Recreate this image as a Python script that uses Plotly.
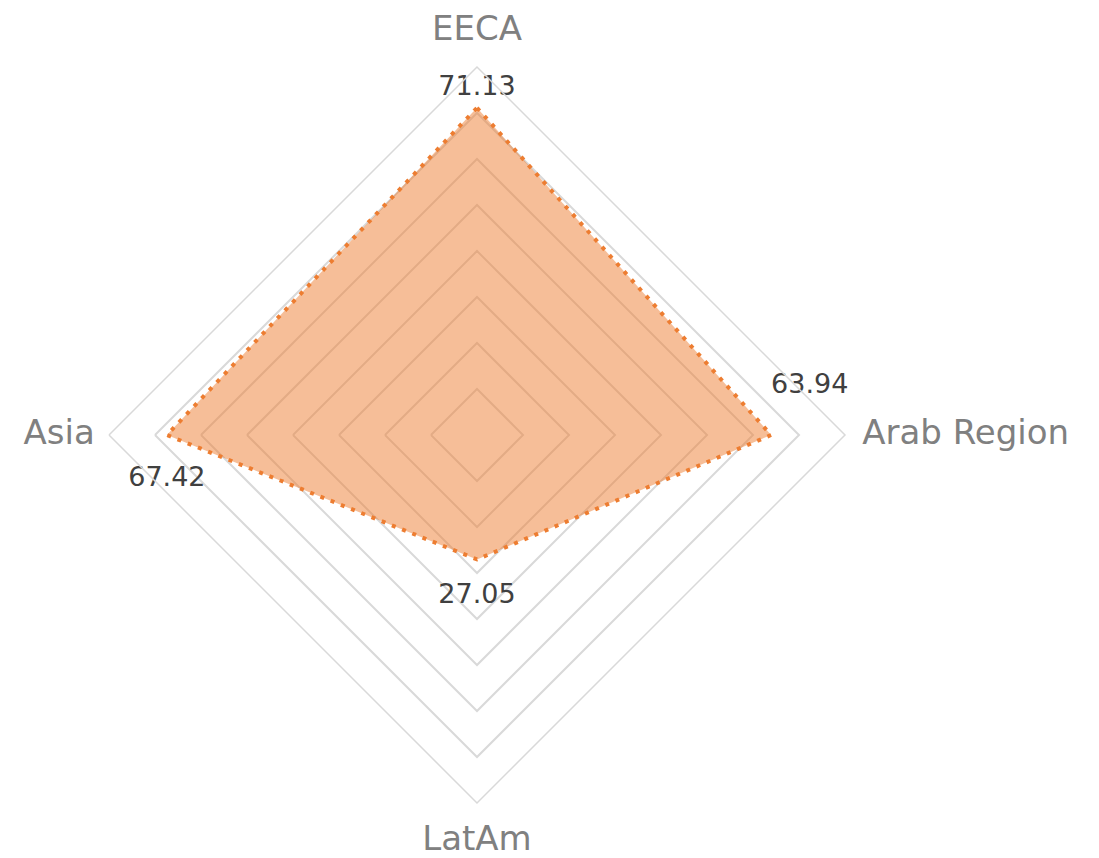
import plotly.graph_objects as go

categories = ["EECA", "Arab Region", "LatAm", "Asia"]
values = [71.13, 63.94, 27.05, 67.42]
value_labels = ["71.13", "63.94<br> ", "27.05", "67.42"]
axis_max = 80
grid_step = 10

# label placement styles (textposition + invisible marker size used as padding)
value_label_positions = ["top center", "top right", "bottom center", "bottom center"]
value_label_pad = [8, 0, 36, 47]
cat_label_positions = ["top center", "middle right", "bottom center", "middle left"]
cat_label_pad = [28, 26, 32, 21]

FONT = "DejaVu Sans"

fig = go.Figure()

fig.add_trace(go.Scatterpolar(
    r=values + values[:1],
    theta=categories + categories[:1],
    mode="lines",
    fill="toself",
    fillcolor="rgba(237,125,49,0.5)",
    line=dict(color="#ED7D31", width=4, dash="4px,7px"),
    hoverinfo="skip",
    showlegend=False,
))

fig.add_trace(go.Scatterpolar(
    r=values,
    theta=categories,
    mode="markers+text",
    marker=dict(size=value_label_pad, color="rgba(0,0,0,0)", opacity=0, line=dict(width=0)),
    text=value_labels,
    textposition=value_label_positions,
    textfont=dict(family=FONT, size=27, color="#404040"),
    cliponaxis=False,
    hoverinfo="skip",
    showlegend=False,
))

fig.add_trace(go.Scatterpolar(
    r=[axis_max] * len(categories),
    theta=categories,
    mode="markers+text",
    marker=dict(size=cat_label_pad, color="rgba(0,0,0,0)", opacity=0, line=dict(width=0)),
    text=categories,
    textposition=cat_label_positions,
    textfont=dict(family=FONT, size=34, color="#808080"),
    cliponaxis=False,
    hoverinfo="skip",
    showlegend=False,
))

W, H = 1099, 858
cx, cy, R = 469, 431, 368
fig.update_layout(
    width=W, height=H,
    margin=dict(l=0, r=0, t=0, b=0),
    paper_bgcolor="white",
    plot_bgcolor="white",
    polar=dict(
        domain=dict(x=[(cx - R) / W, (cx + R) / W], y=[(cy - R) / H, (cy + R) / H]),
        gridshape="linear",
        bgcolor="white",
        radialaxis=dict(range=[0, axis_max], dtick=grid_step, showticklabels=False, ticks="",
                        showline=False, gridcolor="#d9d9d9", gridwidth=1.5),
        angularaxis=dict(direction="clockwise", rotation=90, showgrid=False,
                         showline=True, linecolor="#d9d9d9", linewidth=1.5,
                         ticks="", showticklabels=False),
    ),
)

fig.write_html("out.html")
